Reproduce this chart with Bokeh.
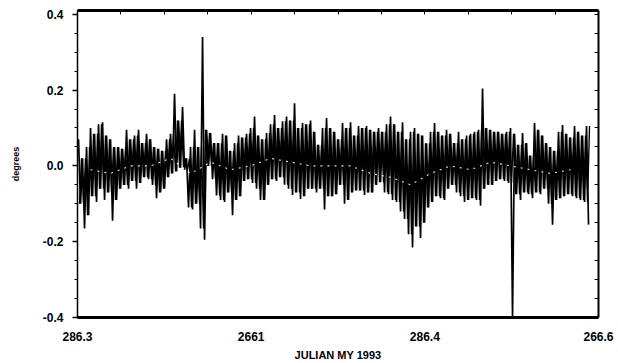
from bokeh.plotting import figure
from bokeh.models import LinearAxis, Range1d, FixedTicker
from bokeh.embed import file_html
from bokeh.resources import INLINE

# ---- data (degrees) ----
# sample start time (Julian day 1993) and sample spacing
t_start = 286.3003
t_step = 0.0011516

# upper excursions of the trace, one per sample
hi = [0.07, 0.02, 0.05, 0.10, 0.085, 0.11, 0.115, 0.08, 0.07, 0.05,
      0.05, 0.045, 0.095, 0.07, 0.08, 0.095, 0.06, 0.085, 0.07, 0.05,
      0.045, 0.04, 0.07, 0.085, 0.19, 0.12, 0.155, 0.02, 0.05, 0.095,
      0.05, 0.34, 0.095, 0.087, 0.06, 0.06, 0.085, 0.08, 0.04, 0.06,
      0.08, 0.075, 0.085, 0.10, 0.13, 0.08, 0.07, 0.087, 0.11, 0.134,
      0.10, 0.118, 0.13, 0.12, 0.165, 0.10, 0.113, 0.11, 0.12, 0.09,
      0.056, 0.10, 0.126, 0.10, 0.09, 0.07, 0.113, 0.10, 0.115, 0.08,
      0.105, 0.10, 0.105, 0.095, 0.09, 0.10, 0.09, 0.11, 0.13, 0.11,
      0.09, 0.115, 0.07, 0.09, 0.10, 0.085, 0.08, 0.06, 0.09, 0.113,
      0.09, 0.08, 0.095, 0.085, 0.06, 0.09, 0.07, 0.08, 0.085, 0.09,
      0.095, 0.204, 0.10, 0.095, 0.09, 0.09, 0.085, 0.09, 0.10, 0.085,
      0.056, 0.087, 0.06, 0.027, 0.113, 0.095, 0.08, 0.06, 0.05, 0.04,
      0.09, 0.108, 0.085, 0.075, 0.105, 0.09, 0.08, 0.105]

# lower excursions of the trace, one per sample
lo = [-0.10, -0.165, -0.13, -0.08, -0.095, -0.06, -0.09, -0.07, -0.145, -0.09,
      -0.06, -0.05, -0.06, -0.04, -0.06, -0.045, -0.03, -0.035, -0.05, -0.085,
      -0.07, -0.06, -0.03, -0.02, -0.015, -0.005, -0.01, -0.11, -0.115, -0.10,
      -0.165, -0.195, 0.0, -0.035, -0.078, -0.09, -0.095, -0.07, -0.13, -0.09,
      -0.08, -0.04, -0.035, -0.045, -0.06, -0.09, -0.09, -0.05, -0.035, -0.04,
      -0.03, -0.05, -0.06, -0.077, -0.07, -0.087, -0.08, -0.06, -0.06, -0.07,
      -0.06, -0.115, -0.08, -0.08, -0.075, -0.05, -0.10, -0.09, -0.07, -0.065,
      -0.065, -0.077, -0.07, -0.07, -0.05, -0.043, -0.07, -0.075, -0.09, -0.095,
      -0.12, -0.14, -0.18, -0.215, -0.16, -0.19, -0.15, -0.11, -0.095, -0.08,
      -0.085, -0.09, -0.06, -0.05, -0.07, -0.08, -0.095, -0.09, -0.085, -0.09,
      -0.105, -0.06, -0.05, -0.05, -0.04, -0.035, -0.04, -0.045, -0.40, -0.075,
      -0.09, -0.07, -0.075, -0.085, -0.07, -0.075, -0.06, -0.10, -0.155, -0.09,
      -0.085, -0.08, -0.075, -0.08, -0.085, -0.09, -0.095, -0.155]

# light centre trace (every 5th sample, starting at sample 3)
centre = [-0.01, -0.02, 0.0, 0.0, 0.02, -0.02, 0.01, -0.01, 0.0, 0.02,
          0.01, 0.0, 0.0, 0.0, -0.02, -0.03, -0.05, -0.02, 0.0, -0.01,
          0.01, 0.0, -0.01, -0.02, -0.01]

y_ticks = [-0.4, -0.2, 0.0, 0.2, 0.4]
y_labels = ["-0.4", "-0.2", "0.0", "0.2", "0.4"]
x_ticks = [286.30, 286.35, 286.40, 286.45]
x_labels = ["286.3", "2661", "286.4", "266.6"]

# ---- build series ----
n = len(hi)
xs, ys = [], []      # hi -> lo zigzag (the trace itself)
xs2, ys2 = [], []    # in-between strokes that keep the band dense
for i in range(n):
    xs.append(t_start + i * t_step)
    ys.append(hi[i])
    xs.append(t_start + (i + 0.5) * t_step)
    ys.append(lo[i])
    lo_in = max(lo[i], lo[i - 1]) if i > 0 else lo[i]
    hi_in = min(hi[i], hi[i + 1]) if i < n - 1 else hi[i]
    xs2.append(t_start + (i + 0.25) * t_step)
    ys2.append(lo_in)
    xs2.append(t_start + (i + 0.75) * t_step)
    ys2.append(hi_in)

cx = [t_start + (3 + 5 * k) * t_step for k in range(len(centre))]

FONT = "Liberation Sans"

p = figure(width=618, height=363,
           x_range=Range1d(286.30, 286.45), y_range=Range1d(-0.4, 0.41),
           output_backend="svg", toolbar_location=None,
           x_axis_location=None, y_axis_location=None,
           min_border_left=77, min_border_right=20,
           min_border_top=10, min_border_bottom=46)
p.outline_line_color = None
p.grid.visible = False
p.background_fill_color = "white"
p.border_fill_color = "white"

p.line(xs2, ys2, line_color="black", line_width=1.4)
p.line(xs, ys, line_color="black", line_width=1.7)
p.line(cx, centre, line_color="white", line_width=1.1, line_dash="2 5", line_alpha=0.9)

# left axis
yminor = [round(-0.4 + 0.05 * k, 2) for k in range(17)]
left = LinearAxis(ticker=FixedTicker(ticks=y_ticks, minor_ticks=yminor))
left.major_label_overrides = {t: s for t, s in zip(y_ticks, y_labels)}
left.axis_line_width = 1.5
left.axis_line_color = "black"
left.major_tick_out = 5
left.major_tick_in = 0
left.minor_tick_out = 3
left.minor_tick_in = 0
left.major_tick_line_width = 1.5
left.major_tick_line_color = "black"
left.minor_tick_line_color = "black"
left.major_label_standoff = 9
left.major_label_text_font = FONT
left.major_label_text_font_style = "bold"
left.major_label_text_font_size = "12px"
left.major_label_text_color = "black"
left.axis_label = "degrees"
left.axis_label_text_font = FONT
left.axis_label_text_font_style = "bold"
left.axis_label_text_font_size = "9px"
left.axis_label_text_color = "black"
left.axis_label_standoff = 19
p.add_layout(left, "left")

# right axis (ticks only, inward)
right = LinearAxis(ticker=FixedTicker(ticks=[], minor_ticks=yminor))
right.axis_line_width = 2
right.axis_line_color = "black"
right.minor_tick_in = 4
right.minor_tick_out = 0
right.minor_tick_line_color = "black"
right.major_tick_in = 0
right.major_tick_out = 0
right.major_label_text_font_size = "0px"
p.add_layout(right, "right")

# top axis (ticks only, inward)
xminor = [round(286.30 + 0.0125 * k, 4) for k in range(13)]
top = LinearAxis(ticker=FixedTicker(ticks=[], minor_ticks=xminor))
top.axis_line_width = 3
top.axis_line_color = "black"
top.minor_tick_in = 4
top.minor_tick_out = 0
top.minor_tick_line_color = "black"
top.major_tick_in = 0
top.major_tick_out = 0
top.major_label_text_font_size = "0px"
p.add_layout(top, "above")

# bottom axis
bottom = LinearAxis(ticker=FixedTicker(ticks=x_ticks, minor_ticks=[]))
bottom.major_label_overrides = {t: s for t, s in zip(x_ticks, x_labels)}
bottom.axis_line_width = 3
bottom.axis_line_color = "black"
bottom.major_tick_in = 0
bottom.major_tick_out = 0
bottom.major_label_standoff = 14
bottom.major_label_text_font = FONT
bottom.major_label_text_font_style = "bold"
bottom.major_label_text_font_size = "12px"
bottom.major_label_text_color = "black"
bottom.axis_label = "JULIAN MY 1993"
bottom.axis_label_text_font = FONT
bottom.axis_label_text_font_style = "bold"
bottom.axis_label_text_font_size = "11px"
bottom.axis_label_text_color = "black"
bottom.axis_label_standoff = 5
p.add_layout(bottom, "below")

open("out.html", "w").write(file_html(p, INLINE))
